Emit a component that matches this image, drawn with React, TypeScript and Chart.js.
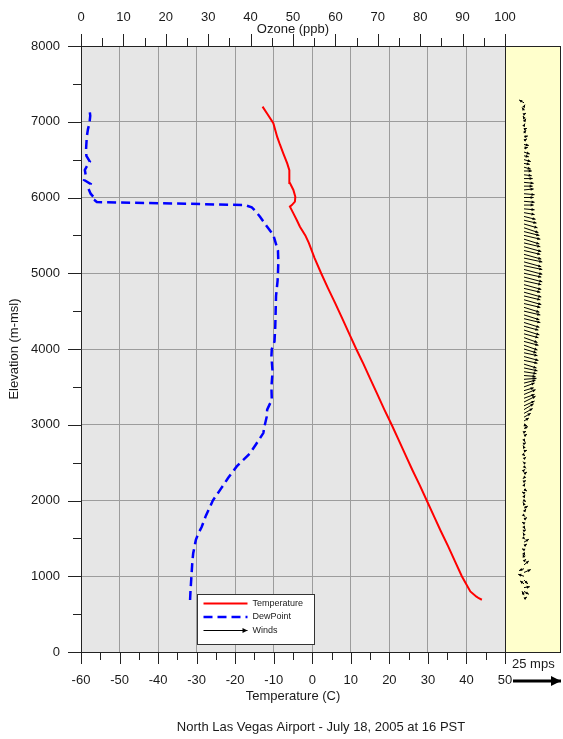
import React, { useEffect, useRef } from 'react';
import { Chart, registerables } from 'chart.js';

Chart.register(...registerables);

// ---------------- data ----------------
const TEMP_MIN = -60;
const TEMP_MAX = 50;
const OZONE_MIN = 0;
const OZONE_MAX = 100;
const ELEV_MIN = 0;
const ELEV_MAX = 8000;
const WIND_REF_MPS = 25;

const tempElev = [690, 710, 730, 800, 1000, 1200, 1400, 1600, 1800, 2000,
  2200, 2400, 2600, 2800, 3000, 3200, 3400, 3600, 3800, 4000,
  4200, 4400, 4600, 4800, 5000, 5200, 5400, 5500, 5615, 5700,
  5790, 5850, 5880, 5900, 5945, 6010, 6100, 6190, 6280, 6360,
  6450, 6580, 6700, 6800, 6980, 7100, 7200];
const tempC = [44.0, 43.2, 42.6, 41.0, 38.8, 37.0, 35.2, 33.3, 31.5, 29.7,
  27.9, 26.0, 24.2, 22.4, 20.6, 18.7, 16.9, 15.1, 13.3, 11.4,
  9.6, 7.8, 6.0, 4.1, 2.3, 0.6, -0.9, -1.8, -3.2, -4.0,
  -4.9, -5.5, -5.8, -5.3, -4.5, -4.4, -4.9, -5.8, -5.9, -6.0,
  -6.5, -7.5, -8.4, -9.1, -10.1, -11.6, -12.9];

const dewElev = [686, 800, 1040, 1200, 1300, 1480, 1560, 1650, 1800, 1920,
  2000, 2140, 2300, 2450, 2620, 2750, 2890, 3000, 3110, 3200,
  3330, 3500, 3700, 3900, 4000, 4100, 4300, 4500, 4700, 4900,
  5000, 5150, 5300, 5400, 5505, 5620, 5750, 5830, 5870, 5900,
  5920, 5940, 5967, 5990, 6011, 6050, 6121, 6180, 6231, 6300,
  6363, 6420, 6473, 6550, 6627, 6800, 6900, 6980, 7080, 7165];
const dewC = [-31.7, -31.6, -31.3, -31.1, -30.9, -30.2, -29.6, -28.7, -27.6, -26.5,
  -25.8, -23.9, -21.8, -19.6, -16.2, -14.5, -12.7, -12.3, -11.8, -11.7,
  -10.5, -10.6, -10.3, -10.6, -10.5, -9.8, -9.6, -9.5, -9.4, -9.0,
  -8.9, -8.8, -8.9, -9.5, -10.1, -11.8, -13.6, -14.9, -15.7, -17.5,
  -35.0, -55.9, -56.5, -57.2, -56.8, -57.5, -58.1, -57.5, -59.2, -58.8,
  -59.0, -58.4, -57.7, -58.6, -58.7, -58.5, -58.2, -57.8, -57.6, -57.8];

const windElev = [700, 750, 800, 850, 900, 950, 1000, 1050, 1100, 1150,
  1200, 1250, 1300, 1350, 1400, 1450, 1500, 1550, 1600, 1650,
  1700, 1750, 1800, 1850, 1900, 1950, 2000, 2050, 2100, 2150,
  2200, 2250, 2300, 2350, 2400, 2450, 2500, 2550, 2600, 2650,
  2700, 2750, 2800, 2850, 2900, 2950, 3000, 3050, 3100, 3150,
  3200, 3250, 3300, 3350, 3400, 3450, 3500, 3550, 3600, 3650,
  3700, 3750, 3800, 3850, 3900, 3950, 4000, 4050, 4100, 4150,
  4200, 4250, 4300, 4350, 4400, 4450, 4500, 4550, 4600, 4650,
  4700, 4750, 4800, 4850, 4900, 4950, 5000, 5050, 5100, 5150,
  5200, 5250, 5300, 5350, 5400, 5450, 5500, 5550, 5600, 5650,
  5700, 5750, 5800, 5850, 5900, 5950, 6000, 6050, 6100, 6150,
  6200, 6250, 6300, 6350, 6400, 6450, 6500, 6550, 6600, 6650,
  6700, 6750, 6800, 6850, 6900, 6950, 7000, 7050, 7100, 7150,
  7200, 7250];
// eastward component (m/s)
const windU = [1.5, -1.0, 2.5, 3.0, -2.0, 2.0, -3.0, 3.5, -2.5, 2.5,
  1.0, -0.5, 0.5, -1.0, 1.5, 2.5, 0.5, -0.5, 1.0, 0.5,
  -1.0, 1.5, 0.5, 1.0, 2.0, -0.5, 1.0, 0.5, -1.0, 1.5,
  0.5, 1.0, -0.5, 1.5, 0.5, 1.0, -0.5, 1.0, 0.5, 1.5,
  -0.5, 1.0, 0.5, 1.5, 1.0, 2.0, 1.5, 2.5, 3.5, 4.5,
  5.0, 5.5, 6.0, 5.5, 6.0, 5.0, 5.5, 6.0, 6.5, 6.0,
  6.5, 7.0, 6.5, 7.0, 7.5, 7.0, 6.5, 7.0, 7.5, 7.0,
  7.5, 8.0, 7.5, 8.0, 8.5, 8.0, 8.5, 8.0, 8.5, 9.0,
  8.5, 9.0, 8.5, 9.0, 9.0, 9.5, 9.0, 9.5, 9.5, 9.0,
  9.5, 9.0, 8.5, 9.0, 8.5, 8.0, 8.5, 8.0, 7.5, 7.0,
  6.5, 6.0, 5.5, 5.5, 5.0, 5.5, 5.0, 5.5, 5.0, 4.5,
  5.0, 4.5, 4.0, 4.0, 3.5, 3.0, 3.5, 2.5, 3.0, 2.0,
  2.5, 1.5, 2.0, 1.0, 1.5, 0.5, 1.0, -0.5, 1.0, -1.0,
  0.5, -2.5];
// northward component (m/s)
const windV = [1.0, 2.0, -1.5, 0.5, 1.5, -2.0, 1.0, 1.5, -1.0, 2.0,
  1.0, 1.5, -1.0, 0.5, 1.0, 1.5, -0.5, 1.0, 0.5, -1.0,
  0.5, 1.0, -0.5, 1.5, 1.0, 1.0, -0.5, 1.0, 0.5, -1.0,
  1.0, 0.5, -0.5, 1.0, 0.5, -1.0, 0.5, 1.0, -0.5, 0.5,
  1.0, 0.5, -1.0, 1.0, 0.5, 1.0, -0.5, 1.5, 2.0, 2.5,
  3.0, 2.5, 3.0, 2.0, 2.5, 1.5, 2.0, 1.5, 0.5, -0.5,
  -1.0, -1.5, -2.0, -1.5, -2.0, -1.5, -2.0, -2.5, -2.0, -2.5,
  -2.0, -2.5, -2.0, -2.5, -2.0, -2.5, -2.0, -2.5, -2.0, -2.5,
  -2.0, -2.5, -2.0, -2.5, -2.0, -2.5, -2.0, -2.5, -2.0, -2.5,
  -2.0, -2.5, -2.0, -2.5, -2.0, -2.5, -2.0, -2.0, -2.5, -2.0,
  -1.5, -1.5, -1.0, -0.5, 0.0, -0.5, 0.0, -0.5, 0.5, 0.0,
  -0.5, 0.0, -0.5, 0.0, -1.0, -0.5, -1.0, -0.5, -1.0, 0.5,
  -0.5, 1.0, 0.5, 1.5, 0.5, 1.0, 1.5, 1.0, 0.5, 1.5,
  1.0, 1.5];

const labelTemp = 'Temperature';
const labelDew = 'DewPoint';
const labelWinds = 'Winds';
const titleTemp = 'Temperature (C)';
const titleOzone = 'Ozone (ppb)';
const titleElev = 'Elevation (m-msl)';
const caption = 'North Las Vegas Airport - July 18, 2005 at 16 PST';
const windRefLabel = `${WIND_REF_MPS} mps`;

// ---------------- styles ----------------
const FONT_FAMILY = '"Liberation Sans", Arial, Helvetica, sans-serif';
const TEXT_COLOR = '#1a1a1a';
const GRID_COLOR = '#9c9c9c';
const AXIS_COLOR = '#222222';
const PANEL_W = 56;
const REF_ARROW_LEN = 48;
const PX_PER_MPS = REF_ARROW_LEN / WIND_REF_MPS;

function arrow(ctx: CanvasRenderingContext2D, x0: number, y0: number, x1: number, y1: number, head: number, half: number) {
  ctx.beginPath();
  ctx.moveTo(x0, y0);
  ctx.lineTo(x1, y1);
  ctx.stroke();
  const ang = Math.atan2(y1 - y0, x1 - x0);
  const c = Math.cos(ang), s = Math.sin(ang);
  const bx = x1 - c * head, by = y1 - s * head;
  ctx.beginPath();
  ctx.moveTo(x1, y1);
  ctx.lineTo(bx - s * half, by + c * half);
  ctx.lineTo(bx + s * half, by - c * half);
  ctx.closePath();
  ctx.fill();
}

const decorPlugin = {
  id: 'decor',
  beforeDraw(chart: any) {
    const { ctx, chartArea: a } = chart;
    ctx.save();
    ctx.fillStyle = '#ffffff';
    ctx.fillRect(0, 0, chart.width, chart.height);
    ctx.fillStyle = '#e6e6e6';
    ctx.fillRect(a.left, a.top, a.right - a.left, a.bottom - a.top);
    ctx.fillStyle = '#ffffcc';
    ctx.fillRect(a.right, a.top, PANEL_W, a.bottom - a.top);
    ctx.restore();
  },
  afterDraw(chart: any) {
    const { ctx, chartArea: a, scales } = chart;
    const xs = scales.x, x2 = scales.x2, ys = scales.y;
    ctx.save();
    // tick marks
    ctx.strokeStyle = AXIS_COLOR;
    ctx.lineWidth = 1;
    ctx.beginPath();
    xs.ticks.forEach((t: any) => {
      const p = Math.round(xs.getPixelForValue(t.value)) + 0.5;
      const len = t.value % 10 === 0 ? 12 : 8;
      ctx.moveTo(p, a.bottom);
      ctx.lineTo(p, a.bottom + len);
    });
    x2.ticks.forEach((t: any) => {
      const p = Math.round(x2.getPixelForValue(t.value)) + 0.5;
      const len = t.value % 10 === 0 ? 12 : 8;
      ctx.moveTo(p, a.top);
      ctx.lineTo(p, a.top - len);
    });
    ys.ticks.forEach((t: any) => {
      const p = Math.round(ys.getPixelForValue(t.value)) + 0.5;
      const len = t.value % 1000 === 0 ? 13 : 8;
      ctx.moveTo(a.left, p);
      ctx.lineTo(a.left - len, p);
    });
    ctx.stroke();

    // wind panel border
    ctx.strokeStyle = AXIS_COLOR;
    ctx.strokeRect(Math.round(a.right) + 0.5, Math.round(a.top) + 0.5, PANEL_W - 1, Math.round(a.bottom - a.top));

    // wind arrows
    const baseX = a.right + 19;
    ctx.strokeStyle = '#000000';
    ctx.fillStyle = '#000000';
    ctx.lineWidth = 1;
    for (let i = 0; i < windElev.length; i++) {
      const y = ys.getPixelForValue(windElev[i]);
      const x1 = baseX + windU[i] * PX_PER_MPS;
      const y1 = y - windV[i] * PX_PER_MPS;
      arrow(ctx, baseX, y, x1, y1, 3, 1.5);
    }

    // reference arrow
    ctx.fillStyle = TEXT_COLOR;
    ctx.font = `13px ${FONT_FAMILY}`;
    ctx.textAlign = 'left';
    ctx.textBaseline = 'middle';
    ctx.fillText(windRefLabel, a.right + 7, a.bottom + 12);
    ctx.strokeStyle = '#000000';
    ctx.fillStyle = '#000000';
    ctx.lineWidth = 3;
    const ry = a.bottom + 29;
    const rx0 = a.right + 8;
    arrow(ctx, rx0, ry, rx0 + REF_ARROW_LEN, ry, 10, 5);

    // legend
    const lx = Math.round(a.left + 116) + 0.5;
    const ly = Math.round(a.top + 548) + 0.5;
    ctx.fillStyle = '#ffffff';
    ctx.fillRect(lx, ly, 117, 50);
    ctx.lineWidth = 1;
    ctx.strokeStyle = '#333333';
    ctx.strokeRect(lx, ly, 117, 50);
    const sx0 = lx + 6, sx1 = lx + 50;
    ctx.lineWidth = 2;
    ctx.strokeStyle = '#ff0000';
    ctx.beginPath(); ctx.moveTo(sx0, ly + 9); ctx.lineTo(sx1, ly + 9); ctx.stroke();
    ctx.lineWidth = 2.5;
    ctx.strokeStyle = '#0000ff';
    ctx.setLineDash([9, 5]);
    ctx.beginPath(); ctx.moveTo(sx0, ly + 22.5); ctx.lineTo(sx1, ly + 22.5); ctx.stroke();
    ctx.setLineDash([]);
    ctx.lineWidth = 1;
    ctx.strokeStyle = '#000000';
    ctx.fillStyle = '#000000';
    arrow(ctx, sx0, ly + 36, sx1, ly + 36, 5, 2.5);
    ctx.fillStyle = TEXT_COLOR;
    ctx.font = `9px ${FONT_FAMILY}`;
    ctx.textAlign = 'left';
    ctx.textBaseline = 'middle';
    ctx.fillText(labelTemp, lx + 55, ly + 9);
    ctx.fillText(labelDew, lx + 55, ly + 22.5);
    ctx.fillText(labelWinds, lx + 55, ly + 36);

    // caption
    ctx.font = `13px ${FONT_FAMILY}`;
    ctx.textAlign = 'center';
    ctx.fillText(caption, (a.left + a.right + PANEL_W) / 2, chart.height - 12);
    ctx.restore();
  },
};

export default function App() {
  const ref = useRef<HTMLCanvasElement>(null);
  useEffect(() => {
    document.body.style.margin = '0';
    const canvas = ref.current;
    if (!canvas) return;
    Chart.defaults.font.family = FONT_FAMILY;
    Chart.defaults.color = TEXT_COLOR;
    const tickFont = { size: 13, family: FONT_FAMILY };
    const chart = new Chart(canvas, {
      type: 'scatter',
      data: {
        datasets: [
          {
            label: labelTemp,
            data: tempElev.map((e, i) => ({ x: tempC[i], y: e })),
            showLine: true,
            borderColor: '#ff0000',
            backgroundColor: '#ff0000',
            borderWidth: 2,
            pointRadius: 0,
            xAxisID: 'x',
            yAxisID: 'y',
          },
          {
            label: labelDew,
            data: dewElev.map((e, i) => ({ x: dewC[i], y: e })),
            showLine: true,
            borderColor: '#0000ff',
            backgroundColor: '#0000ff',
            borderWidth: 2.5,
            borderDash: [9, 5],
            pointRadius: 0,
            xAxisID: 'x',
            yAxisID: 'y',
          },
        ],
      },
      options: {
        responsive: false,
        animation: false,
        events: [],
        layout: { padding: { left: 0, right: 58, top: 0, bottom: 0 } },
        plugins: { legend: { display: false }, tooltip: { enabled: false }, title: { display: false } },
        scales: {
          x: {
            type: 'linear',
            position: 'bottom',
            min: TEMP_MIN,
            max: TEMP_MAX,
            afterFit: (s: any) => { s.height = 87; },
            ticks: {
              stepSize: 5,
              autoSkip: false,
              maxRotation: 0,
              padding: 21,
              font: tickFont,
              color: TEXT_COLOR,
              callback: (v: any) => (Number(v) % 10 === 0 ? String(v) : ''),
            },
            grid: {
              drawTicks: false,
              color: (c: any) => (c.tick && c.tick.value % 10 === 0 ? GRID_COLOR : 'rgba(0,0,0,0)'),
            },
            border: { display: true, color: AXIS_COLOR, width: 1 },
            title: { display: true, text: titleTemp, font: tickFont, color: TEXT_COLOR, padding: { top: 0, bottom: 35 } },
          },
          x2: {
            type: 'linear',
            position: 'top',
            min: OZONE_MIN,
            max: OZONE_MAX,
            afterFit: (s: any) => { s.height = 46; },
            ticks: {
              stepSize: 5,
              autoSkip: false,
              maxRotation: 0,
              padding: 21,
              font: tickFont,
              color: TEXT_COLOR,
              callback: (v: any) => (Number(v) % 10 === 0 ? String(v) : ''),
            },
            grid: { drawTicks: false, drawOnChartArea: false },
            border: { display: true, color: AXIS_COLOR, width: 1 },
            title: { display: true, text: titleOzone, font: tickFont, color: TEXT_COLOR, padding: { top: 22, bottom: 0 } },
          },
          y: {
            type: 'linear',
            position: 'left',
            min: ELEV_MIN,
            max: ELEV_MAX,
            afterFit: (s: any) => { s.width = 81; },
            ticks: {
              stepSize: 500,
              autoSkip: false,
              padding: 21,
              font: tickFont,
              color: TEXT_COLOR,
              callback: (v: any) => (Number(v) % 1000 === 0 ? String(v) : ''),
            },
            grid: {
              drawTicks: false,
              color: (c: any) => (c.tick && c.tick.value % 1000 === 0 ? GRID_COLOR : 'rgba(0,0,0,0)'),
            },
            border: { display: true, color: AXIS_COLOR, width: 1 },
            title: { display: true, text: titleElev, font: tickFont, color: TEXT_COLOR, padding: { top: 7, bottom: 0 } },
          },
        },
      },
      plugins: [decorPlugin],
    } as any);
    return () => chart.destroy();
  }, []);
  return <canvas ref={ref} width={563} height={739} style={{ display: 'block' }} />;
}
